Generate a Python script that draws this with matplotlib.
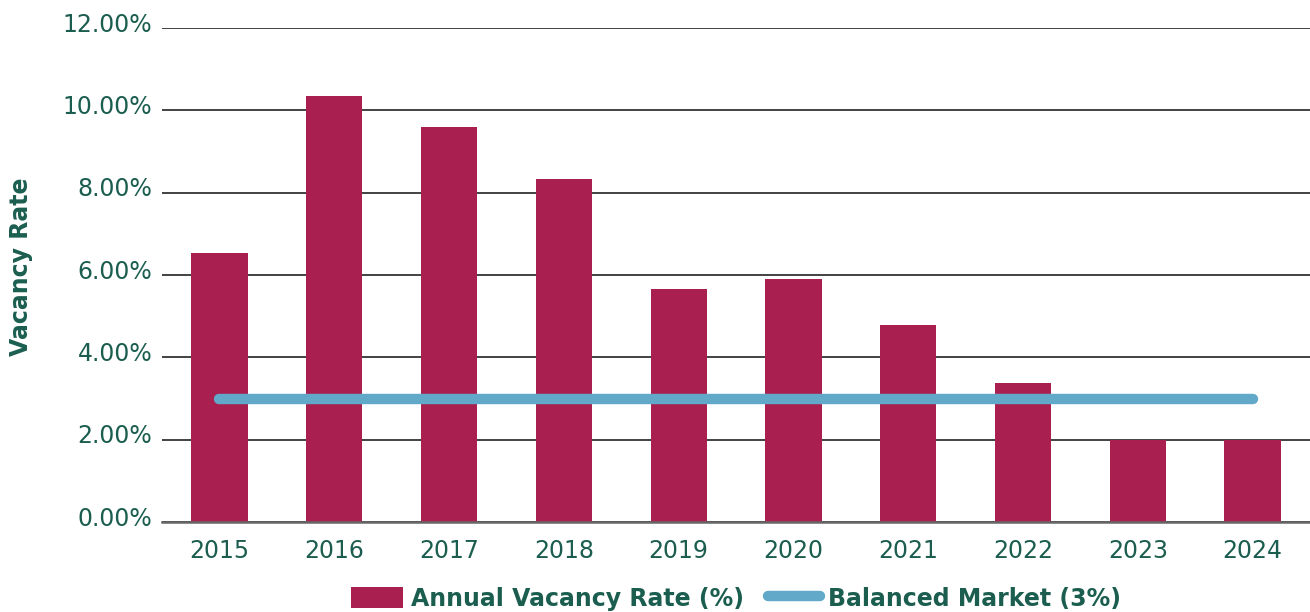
import matplotlib.pyplot as plt
import matplotlib.ticker as mticker
import matplotlib.transforms as mtransforms
from matplotlib.lines import Line2D
from matplotlib.patches import Patch

# ── Data ──────────────────────────────────────────────────────────────────────
years = ["2015", "2016", "2017", "2018", "2019", "2020", "2021", "2022", "2023", "2024"]
vacancy_rate = [6.53, 10.35, 9.59, 8.33, 5.66, 5.90, 4.79, 3.38, 2.00, 2.00]
balanced_market = [3.0] * len(years)

BAR_COLOR = "#A81F50"
LINE_COLOR = "#62A9C9"
TEXT_COLOR = "#1B5E4F"

plt.rcParams["font.family"] = ["DejaVu Sans"]

fig = plt.figure(figsize=(13.1, 6.12), dpi=100)
ax = fig.add_axes([0.1237, 0.147, 0.8763, 0.807])

x = list(range(len(years)))
ax.bar(x, vacancy_rate, width=0.49, color=BAR_COLOR, zorder=2)
ax.plot(x, balanced_market, color=LINE_COLOR, linewidth=7.5,
        solid_capstyle="round", zorder=3)

ax.set_xlim(-0.5, len(years) - 0.5)
ax.set_ylim(0, 12)
ax.set_yticks(range(0, 13, 2))
ax.yaxis.set_major_formatter(mticker.FuncFormatter(lambda v, _: f"{v:.2f}%"))
ax.set_xticks(x)
ax.set_xticklabels(years)

ax.grid(axis="y", color="#222222", linewidth=1.2, zorder=0)
ax.set_axisbelow(True)
for side in ["top", "right", "left"]:
    ax.spines[side].set_visible(False)
ax.spines["bottom"].set_color("#666666")
ax.spines["bottom"].set_linewidth(1.8)
ax.spines["bottom"].set_zorder(4)

ax.tick_params(axis="both", length=0, labelsize=17, labelcolor=TEXT_COLOR)
ax.tick_params(axis="y", pad=7)
ax.tick_params(axis="x", pad=12)

# y tick labels sit a little above their gridlines
shift = mtransforms.ScaledTranslation(0, 6 / 100, fig.dpi_scale_trans)
for lbl in ax.get_yticklabels():
    lbl.set_transform(lbl.get_transform() + shift)

ax.set_ylabel("Vacancy Rate", fontsize=17, fontweight="bold", color=TEXT_COLOR)
ax.yaxis.set_label_coords(-0.112, 0.516)

handles = [
    Patch(facecolor=BAR_COLOR, edgecolor="none"),
    Line2D([0], [0], color=LINE_COLOR, linewidth=7.5, solid_capstyle="round"),
]
leg = ax.legend(handles, ["Annual Vacancy Rate (%)", "Balanced Market (3%)"],
                loc="upper center", bbox_to_anchor=(0.5, -0.088), ncol=2,
                frameon=False, fontsize=17, handlelength=2.2, handleheight=1.0,
                handletextpad=0.35, columnspacing=1.0)
for t in leg.get_texts():
    t.set_color(TEXT_COLOR)
    t.set_fontweight("bold")

fig.savefig("out.png", dpi=100)
